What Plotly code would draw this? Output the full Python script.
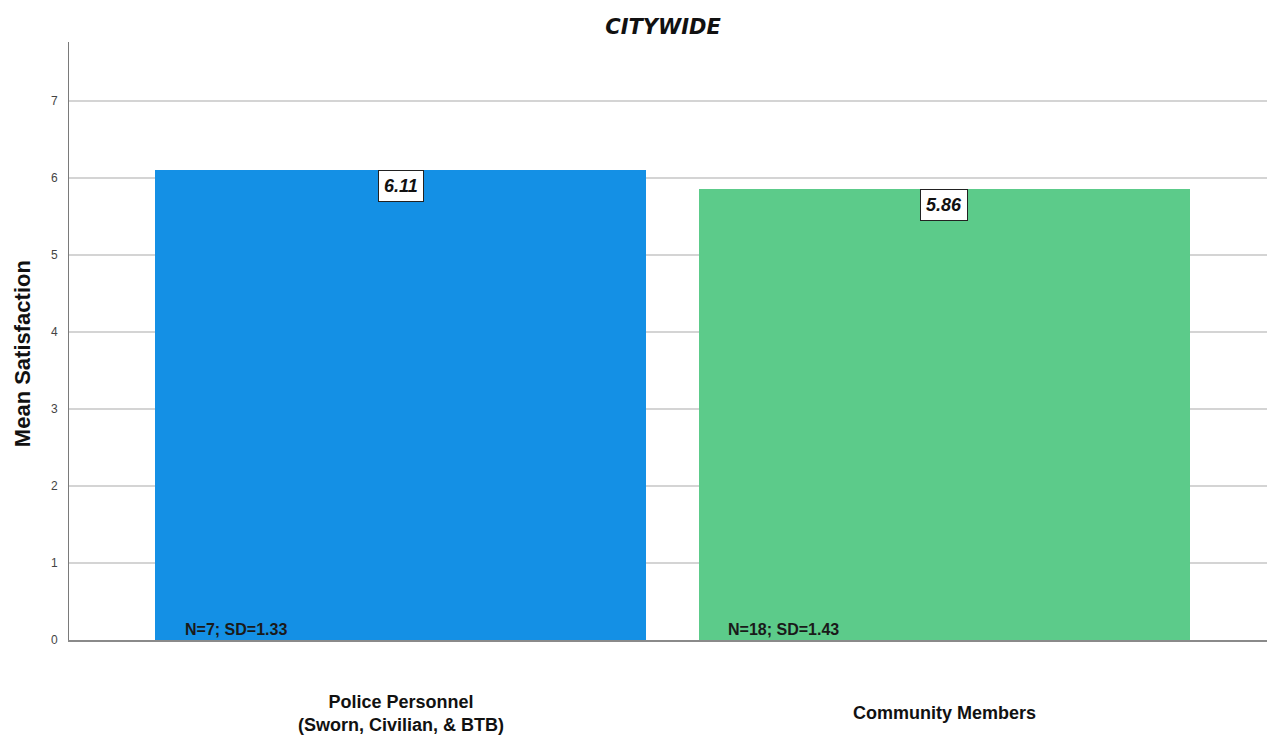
import plotly.graph_objects as go

categories = ["Police Personnel<br>(Sworn, Civilian, & BTB)", "Community Members"]
means = [6.11, 5.86]
n_counts = [7, 18]
sds = [1.33, 1.43]
bar_colors = ["#1490E5", "#5CCB8A"]
y_ticks = [0, 1, 2, 3, 4, 5, 6, 7]

fig = go.Figure()
fig.add_trace(go.Bar(
    x=categories, y=means, marker=dict(color=bar_colors, line=dict(width=0)),
    width=0.902, hoverinfo="skip", showlegend=False,
))

annotations = []
for c, m, n, sd in zip(categories, means, n_counts, sds):
    annotations.append(dict(
        x=c, y=m, xref="x", yref="y", text=f"<b><i>{m:.2f}</i></b>", showarrow=False,
        yanchor="top", xanchor="center", bgcolor="white", bordercolor="#222",
        borderwidth=1, borderpad=5,
        font=dict(family="Liberation Sans, Arial", size=18, color="#111"),
    ))
    annotations.append(dict(
        x=c, y=0, xref="x", yref="y", text=f"<b>N={n}; SD={sd:.2f}</b>", showarrow=False,
        xanchor="left", yanchor="bottom", xshift=-218, yshift=0,
        font=dict(family="Liberation Sans Narrow, Arial Narrow, Liberation Sans", size=16, color="#1a1a1a"),
    ))
    annotations.append(dict(
        x=c, y=0, xref="x", yref="paper", text=f"<b>{c}</b>", showarrow=False,
        xanchor="center", yanchor="middle", yshift=-73,
        font=dict(family="Liberation Sans, Arial", size=18, color="#111"),
    ))

annotations.append(dict(
    x=0, y=0.478, xref="paper", yref="paper", text="<b>Mean Satisfaction</b>", showarrow=False,
    textangle=-90, xanchor="center", yanchor="middle", xshift=-47,
    font=dict(family="Liberation Sans Narrow, Arial Narrow, Liberation Sans", size=22, color="#111"),
))

fig.update_layout(
    width=1267, height=736,
    margin=dict(l=61, r=0, t=34, b=104),
    paper_bgcolor="white", plot_bgcolor="white",
    title=dict(text="<b><i>CITYWIDE</i></b>", x=0.517, xref="container", xanchor="center",
               y=1 - 19 / 736, yref="container", yanchor="middle",
               font=dict(family="DejaVu Sans, Liberation Sans", size=21, color="#111")),
    annotations=annotations,
    bargap=0,
)
fig.update_xaxes(range=[-0.61, 1.608], showticklabels=False, showgrid=False,
                 showline=True, linecolor="#8a8a8a", linewidth=2, zeroline=False, fixedrange=True)
fig.update_yaxes(range=[0, 7.77], tickvals=y_ticks, showgrid=True, gridcolor="#d4d4d4", gridwidth=1.5,
                 showline=True, linecolor="#7a7a7a", linewidth=1, zeroline=False,
                 tickfont=dict(family="Liberation Sans, Arial", size=12, color="#444"),
                 ticks="", ticklabelstandoff=8, automargin=False)

fig.write_html("out.html")
